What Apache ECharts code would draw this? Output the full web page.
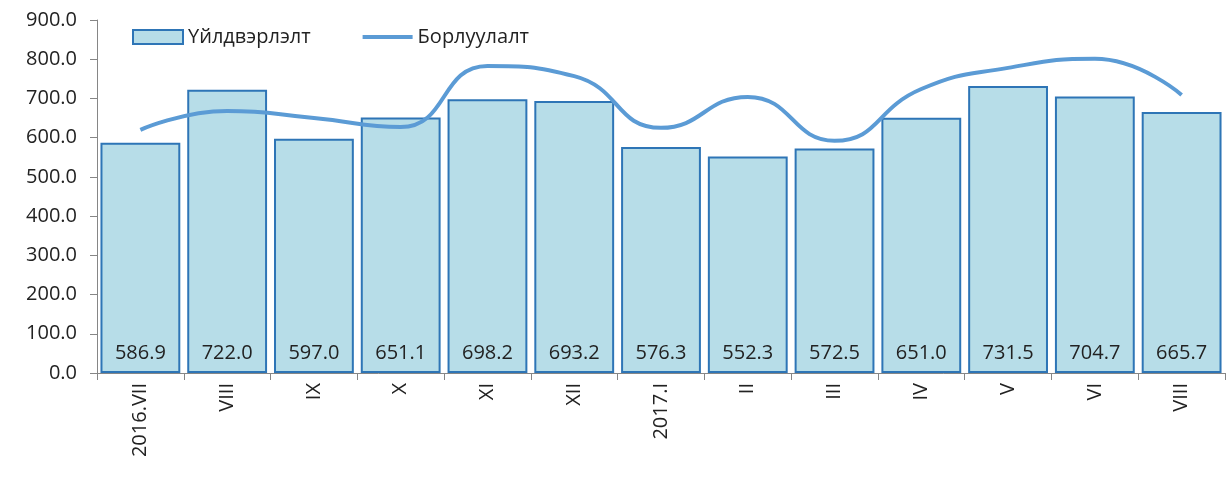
<!DOCTYPE html>
<html>
<head>
<meta charset="utf-8">
<script src="https://cdn.jsdelivr.net/npm/echarts@6/dist/echarts.min.js"></script>
<style>
  html, body { margin: 0; padding: 0; background: #fff; }
  #main { width: 1230px; height: 477px; }
</style>
</head>
<body>
<div id="main"></div>
<script>
var categories = ['2016.VII', 'VIII', 'IX', 'X', 'XI', 'XII', '2017.I', 'II', 'III', 'IV', 'V', 'VI', 'VIII']
var production = [586.9, 722.0, 597.0, 651.1, 698.2, 693.2, 576.3, 552.3, 572.5, 651.0, 731.5, 704.7, 665.7]
var sales = [620, 668, 650, 627, 783, 757, 625, 704, 592, 724, 778, 801, 709]

var font = '"Open Sans", "Noto Sans", sans-serif'
var myChart = echarts.init(document.getElementById('main'))
myChart.setOption({
  animation: false,
  textStyle: { fontFamily: font },
  grid: { left: 97, right: 5, top: 20, bottom: 104, containLabel: false },
  legend: {
    left: 127,
    top: 22,
    itemGap: 52,
    itemWidth: 50,
    itemHeight: 14,
    textStyle: { fontSize: 20, color: '#222', fontFamily: font },
    data: [
      { name: 'Үйлдвэрлэлт', icon: 'rect' },
      { name: 'Борлуулалт', icon: 'path://M0,0H50V4H0Z' }
    ]
  },
  xAxis: {
    type: 'category',
    data: categories,
    axisLine: { lineStyle: { color: '#868686' } },
    axisTick: { show: true, length: 7, lineStyle: { color: '#868686' } },
    axisLabel: { rotate: 90, fontSize: 20, color: '#222', margin: 10, interval: 0 }
  },
  yAxis: {
    type: 'value',
    min: 0,
    max: 900,
    interval: 100,
    axisLine: { show: true, lineStyle: { color: '#868686' } },
    axisTick: { show: true, length: 7, lineStyle: { color: '#868686' } },
    splitLine: { show: false },
    axisLabel: {
      fontSize: 20, color: '#222', margin: 20,
      formatter: function (v) { return v.toFixed(1) }
    }
  },
  series: [
    {
      name: 'Үйлдвэрлэлт',
      type: 'bar',
      data: production,
      barCategoryGap: '8%',
      itemStyle: { color: '#B7DDE8', borderColor: '#2E75B6', borderWidth: 2 },
      label: {
        show: true,
        position: 'insideBottom',
        distance: 10,
        fontSize: 20,
        color: '#222',
        formatter: function (p) { return p.value.toFixed(1) }
      }
    },
    {
      name: 'Борлуулалт',
      type: 'line',
      data: sales,
      smooth: 0.5,
      symbol: 'none',
      lineStyle: { color: '#5B9BD5', width: 4 },
      itemStyle: { color: '#5B9BD5' }
    }
  ]
})
</script>
</body>
</html>
